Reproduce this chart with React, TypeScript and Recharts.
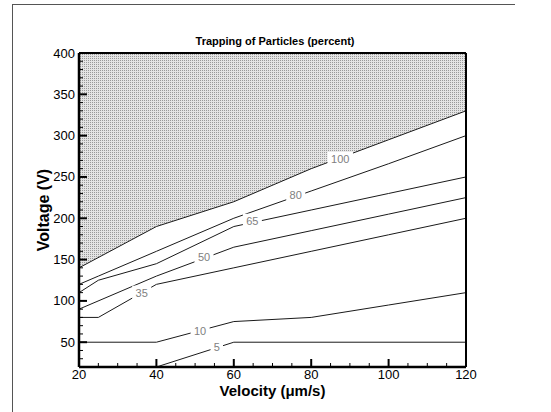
import {
  Area,
  ComposedChart,
  Line,
  ReferenceDot,
  ReferenceLine,
  XAxis,
  YAxis,
} from "recharts";

const FONT = "'Liberation Sans', Arial, sans-serif";

// velocity (µm/s) where the contour lines bend
const velocity = [20, 25, 40, 60, 80, 100, 120];

// voltage (V) of each trapping contour at those velocities
const trap100 = [140, null, 190, 220, 260, 295, 330];
const trap80 = [120, 130, 160, 200, 233, 266, 300];
const trap65 = [110, 125, 145, 190, 210, 230, 250];
const trap50 = [90, null, 130, 165, 185, 205, 225];
const trap35 = [80, 80, 120, 140, 160, 180, 200];
const trap10 = [50, null, 50, 75, 80, 95, 110];
const trap5 = [null, null, 20, 50, null, null, 50];

// in-line contour labels
const labelText = ["100", "80", "65", "50", "35", "10", "5"];
const labelX = [87.5, 76, 64.8, 52.3, 36.2, 51.3, 55.6];
const labelY = [272, 228, 197, 153, 110, 64, 44];

const xTicks = [20, 25, 30, 35, 40, 45, 50, 55, 60, 65, 70, 75, 80, 85, 90, 95, 100, 105, 110, 115, 120];
const yTicks = [
  20, 30, 40, 50, 60, 70, 80, 90, 100, 110, 120, 130, 140, 150, 160, 170, 180, 190, 200, 210,
  220, 230, 240, 250, 260, 270, 280, 290, 300, 310, 320, 330, 340, 350, 360, 370, 380, 390, 400,
];

const rows = velocity.map((v, i) => ({
  v,
  c100: trap100[i],
  c80: trap80[i],
  c65: trap65[i],
  c50: trap50[i],
  c35: trap35[i],
  c10: trap10[i],
  c5: trap5[i],
}));

const series = ["c100", "c80", "c65", "c50", "c35", "c10", "c5"];

function XTick(props: any) {
  const { x, y, payload } = props;
  const major = payload.value % 20 === 0;
  return (
    <g>
      <line x1={x} x2={x} y1={y} y2={y - (major ? 8 : 4)} stroke="#000" strokeWidth={major ? 2 : 1} />
      {major && (
        <text x={x} y={y + 12} textAnchor="middle" fontSize={13} fontFamily={FONT} fill="#000">
          {payload.value}
        </text>
      )}
    </g>
  );
}

function YTick(props: any) {
  const { x, y, payload } = props;
  const major = payload.value % 50 === 0;
  return (
    <g>
      <line x1={x} x2={x + (major ? 8 : 4)} y1={y} y2={y} stroke="#000" strokeWidth={major ? 2 : 1} />
      {major && (
        <text x={x - 4} y={y + 4.5} textAnchor="end" fontSize={13} fontFamily={FONT} fill="#000">
          {payload.value}
        </text>
      )}
    </g>
  );
}

function ContourLabel(text: string) {
  return (p: any) => {
    const w = text.length * 6.5 + 6;
    return (
      <g>
        <rect x={p.cx - w / 2} y={p.cy - 7} width={w} height={14} fill="#fff" />
        <text x={p.cx} y={p.cy + 4} textAnchor="middle" fontSize={11} fontFamily={FONT} fill="#808080">
          {text}
        </text>
      </g>
    );
  };
}

export default function App() {
  return (
    <div style={{ position: "absolute", left: 0, top: 0, width: 551, height: 412, background: "#fff" }}>
      <div
        style={{
          position: "absolute",
          left: 12,
          top: 4,
          width: 502,
          height: 408,
          borderTop: "1.5px solid #555",
          borderLeft: "1.5px solid #555",
        }}
      />
      <div
        style={{
          position: "absolute",
          left: 275,
          top: 35,
          transform: "translateX(-50%)",
          whiteSpace: "nowrap",
          fontFamily: FONT,
          fontWeight: "bold",
          fontSize: 11,
          color: "#000",
        }}
      >
        Trapping of Particles (percent)
      </div>
      <ComposedChart
        width={551}
        height={412}
        data={rows}
        margin={{ top: 53, right: 85, bottom: 0, left: 0 }}
        style={{ position: "absolute", left: 0, top: 0 }}
      >
        <defs>
          <pattern id="dots" width={2} height={2} patternUnits="userSpaceOnUse">
            <rect width={2} height={2} fill="#e4e4e4" />
            <rect width={1} height={1} fill="#999" />
          </pattern>
        </defs>
        <XAxis
          dataKey="v"
          type="number"
          domain={[20, 120]}
          ticks={xTicks}
          interval={0}
          height={45}
          tickSize={0}
          tickMargin={0}
          tickLine={false}
          tick={<XTick />}
          axisLine={{ stroke: "#000", strokeWidth: 2.5 }}
          label={{
            value: "Velocity (\u03bcm/s)",
            position: "insideBottom",
            offset: 16,
            style: { fontFamily: FONT, fontWeight: "bold", fontSize: 15, fill: "#000" },
          }}
        />
        <YAxis
          type="number"
          domain={[20, 400]}
          ticks={yTicks}
          interval={0}
          width={79}
          tickSize={0}
          tickMargin={0}
          tickLine={false}
          tick={<YTick />}
          axisLine={{ stroke: "#000", strokeWidth: 2.5 }}
          label={{
            value: "Voltage (V)",
            angle: -90,
            position: "insideLeft",
            offset: 43,
            style: { textAnchor: "middle", fontFamily: FONT, fontWeight: "bold", fontSize: 16, fill: "#000" },
          }}
        />
        <Area
          dataKey={(d: any) => (d.c100 == null ? null : [d.c100, 400])}
          fill="url(#dots)"
          fillOpacity={1}
          stroke="none"
          connectNulls
          isAnimationActive={false}
        />
        {series.map((k) => (
          <Line
            key={k}
            dataKey={k}
            stroke="#1a1a1a"
            strokeWidth={1}
            dot={false}
            connectNulls
            isAnimationActive={false}
          />
        ))}
        <ReferenceLine y={400} stroke="#000" strokeWidth={2} />
        <ReferenceLine x={120} stroke="#000" strokeWidth={2} />
        {labelText.map((t, i) => (
          <ReferenceDot key={t} x={labelX[i]} y={labelY[i]} r={1} shape={ContourLabel(t)} />
        ))}
      </ComposedChart>
    </div>
  );
}
